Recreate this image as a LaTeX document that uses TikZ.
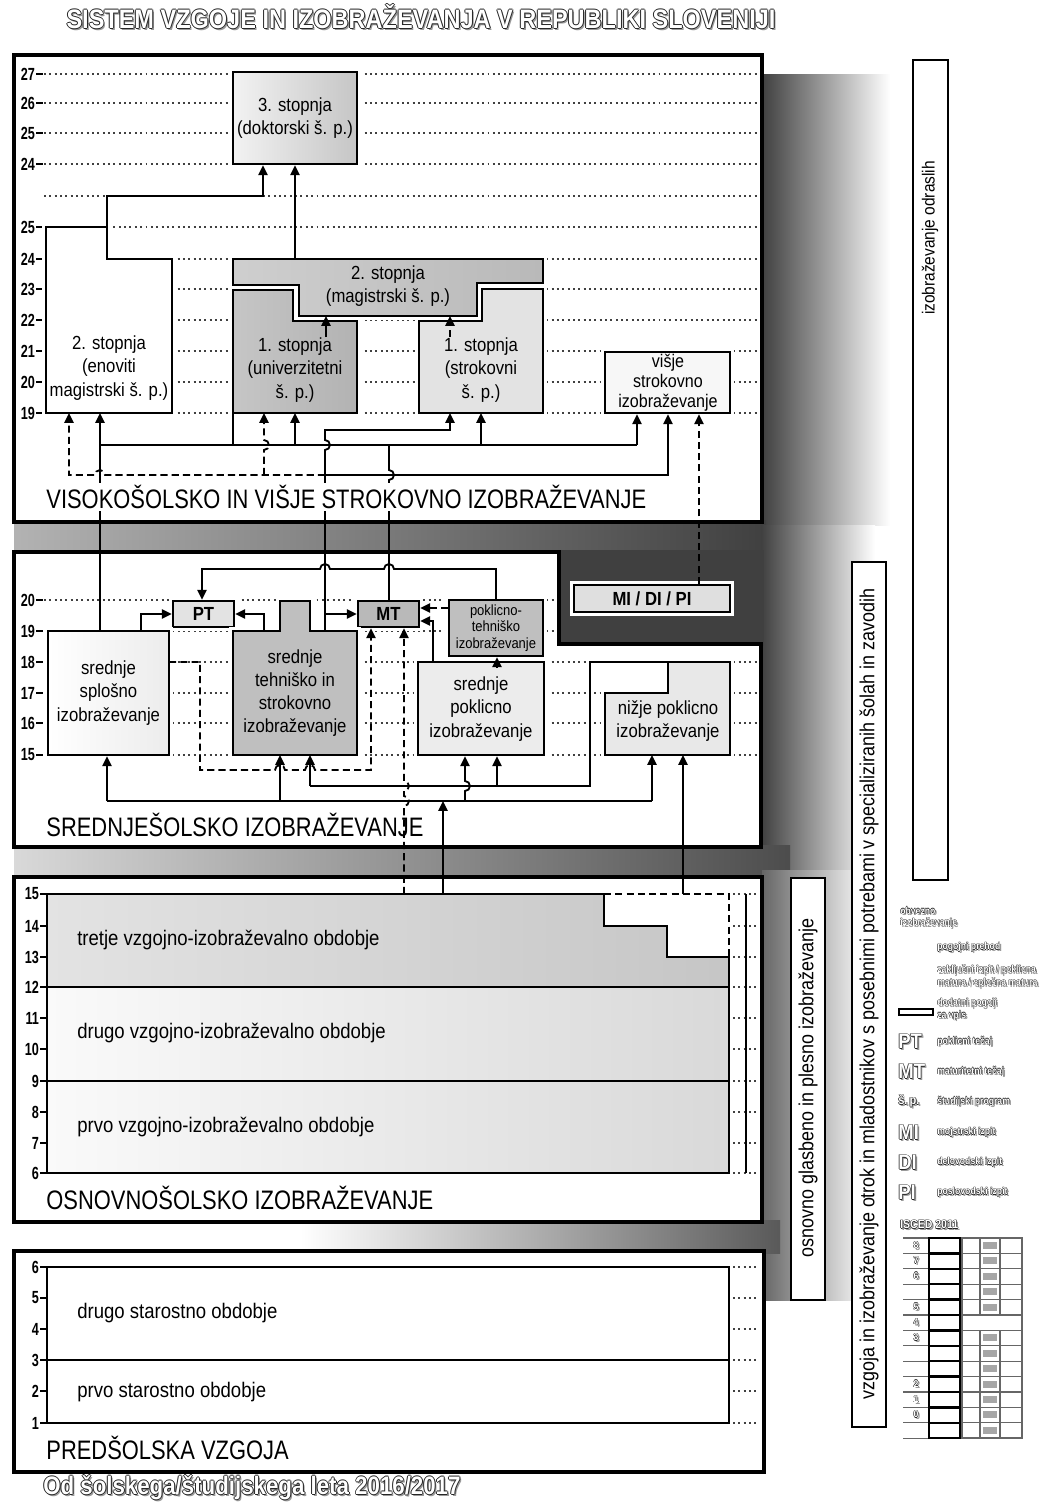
\documentclass[tikz,border=0pt]{standalone}
\usepackage{fontspec}
\setmainfont{Liberation Sans}[FakeStretch=0.88]
\newfontfamily\capsfam{Liberation Sans}[FakeStretch=0.82]
\newfontfamily\numfam{Liberation Sans}[FakeStretch=0.72]
\usetikzlibrary{positioning, arrows.meta, calc, fit}

\newcommand\boxfont{\fontsize{13.5}{16.5}\selectfont}
\newcommand\tightboxfont{\fontsize{13}{14.2}\selectfont}
\newcommand\smallboxfont{\fontsize{10.5}{11.8}\selectfont}
\newcommand\sectfont{\capsfam\fontsize{19}{21}\selectfont}
\newcommand\stagefont{\fontsize{15}{17}\selectfont}
\newcommand\yearfont{\numfam\bfseries\fontsize{12.5}{13}\selectfont}
\newcommand\sidefont{\fontsize{14.5}{16}\selectfont}
\newcommand\titlefont{\bfseries\fontsize{19}{21}\selectfont}
\newcommand\legfont{\bfseries\fontsize{7}{8}\selectfont}
\newcommand\abbrfont{\bfseries\fontsize{15}{16}\selectfont}

% white letters with a dark rim
\newcommand\holtext[2][0.6pt]{%
  \makebox[0pt][l]{\hspace*{1.2pt}\raisebox{-1.2pt}{\textcolor{black!40}{#2}}}%
  \makebox[0pt][l]{\hspace*{#1}\textcolor{black!85}{#2}}%
  \makebox[0pt][l]{\hspace*{-#1}\textcolor{black!85}{#2}}%
  \makebox[0pt][l]{\raisebox{#1}{\textcolor{black!85}{#2}}}%
  \makebox[0pt][l]{\raisebox{-#1}{\textcolor{black!85}{#2}}}%
  \textcolor{white}{#2}}

\begin{document}
\begin{tikzpicture}[x=0.025cm, y=-0.025cm,
  frame/.style={draw=black, line width=2.6pt, fill=white, inner sep=0pt},
  box/.style={draw=black, line width=1.7pt, inner sep=0pt,
    preaction={draw=white, line width=6pt}},
  boxpath/.style={draw=black, line width=1.7pt, preaction={draw=white, line width=6pt}},
  lbl/.style={align=center, font=\boxfont, inner sep=0pt},
  link/.style={line width=1.3pt},
  arr/.style={link, -{Triangle[length=7pt, width=6.5pt]}},
  cond/.style={link, dash pattern=on 5pt off 3pt},
  carr/.style={cond, -{Triangle[length=7pt, width=6.5pt]}},
  dots/.style={line width=1.3pt, black!75, dash pattern=on 1.4pt off 2.4pt},
  yearlbl/.style={font=\yearfont, anchor=east, inner sep=0.5pt},
  sect/.style={font=\sectfont, anchor=west, inner sep=1.5pt},
  stage/.style={font=\stagefont, anchor=west, inner sep=0pt},
  side/.style={draw=black, line width=2pt, fill=white, inner sep=0pt},
  sidelbl/.style={rotate=90, font=\sidefont, inner sep=0pt},
  leg/.style={font=\legfont, anchor=west, inner sep=0pt, align=left},
  abbr/.style={font=\abbrfont, anchor=west, inner sep=0pt}
]
\useasboundingbox (0,0) rectangle (1043,1504);

% dark backdrop
\fill[left color=black!75, right color=white] (762,75) rectangle (890,525);
\fill[left color=black!30, right color=black!75] (14,520) rectangle (766,554);
\fill[left color=black!75, right color=white] (761,525) rectangle (875,880);
\fill[black!75] (559,550) rectangle (764,646);
\fill[left color=black!15, right color=black!70] (14,845) rectangle (790,879);
\fill[left color=black!60, right color=white] (762,870) rectangle (870,1300);
\fill[left color=white, right color=black!65] (300,1220) rectangle (780,1253);

% frames
\node[frame, fit={(14,55) (762,522)}] (higher) {};
\draw[frame] (14,552) -- (559,552) -- (559,644) -- (761,644) -- (761,847) -- (14,847) -- cycle;
\node[frame, fit={(14,877) (762,1222)}] (basic) {};
\node[frame, fit={(14,1251) (764,1472)}] (preschool) {};

% age scales
\foreach \y/\a in {74/27, 103/26, 133/25, 164/24, 227/25, 259/24, 289/23, 320/22, 351/21, 382/20, 413/19}{
  \node[yearlbl] at (36,\y) {\a};
  \draw[link] (36,\y) -- (43,\y);
  \draw[dots] (44,\y) -- (757,\y);
}
\draw[dots] (44,196) -- (757,196);
\foreach \y/\a in {600/20, 631/19}{
  \node[yearlbl] at (36,\y) {\a};
  \draw[link] (36,\y) -- (43,\y);
  \draw[dots] (44,\y) -- (556,\y);
}
\foreach \y/\a in {662/18, 693/17, 723/16, 755/15}{
  \node[yearlbl] at (36,\y) {\a};
  \draw[link] (36,\y) -- (43,\y);
  \draw[dots] (44,\y) -- (757,\y);
}
\foreach \y/\a in {894/15, 926/14, 957/13, 987/12, 1018/11, 1049/10, 1081/9, 1112/8, 1143/7, 1173/6}{
  \node[yearlbl] at (40,\y) {\a};
  \draw[link] (40,\y) -- (47,\y);
  \draw[dots] (733,\y) -- (758,\y);
}
\foreach \y/\a in {1267/6, 1298/5, 1329/4, 1360/3, 1391/2, 1423/1}{
  \node[yearlbl] at (40,\y) {\a};
  \draw[link] (40,\y) -- (47,\y);
  \draw[dots] (733,\y) -- (758,\y);
}

% higher education
\node[box, fit={(233,72) (357,164)}, left color=gray!10, right color=gray!45] (dok) {};
\node[lbl] (dokl) at (dok.center) {3. stopnja\\(doktorski š. p.)};
\draw[boxpath, left color=white, middle color=gray!25, right color=white] (46,413) -- (46,227) -- (107,227) -- (107,259) -- (172,259) -- (172,413) -- cycle;
\node[lbl] (enov) at (109,368) {2. stopnja\\(enoviti\\magistrski š. p.)};
\draw[boxpath, left color=gray!38, right color=gray!55] (233,259) -- (543,259) -- (543,283) -- (477,283) -- (477,316) -- (299,316) -- (299,285) -- (233,285) -- cycle;
\node[lbl] (mag) at (388,286) {2. stopnja\\(magistrski š. p.)};
\draw[boxpath, left color=gray!45, right color=gray!60] (233,290) -- (293,290) -- (293,321) -- (357,321) -- (357,413) -- (233,413) -- cycle;
\node[lbl] (univ) at (295,370) {1. stopnja\\(univerzitetni\\š. p.)};
\draw[boxpath, fill=gray!22] (419,321) -- (482,321) -- (482,289) -- (543,289) -- (543,413) -- (419,413) -- cycle;
\node[lbl] (strok) at (481,370) {1. stopnja\\(strokovni\\š. p.)};
\node[box, fit={(605,352) (730,413)}, fill=gray!6] (visje) {};
\node[lbl, font=\tightboxfont] (visjel) at (668,383) {višje\\strokovno\\izobraževanje};

% secondary education
\node[box, fit={(173,601) (234,627)}, fill=gray!22] (PT) {};
\node[lbl, font=\boxfont\bfseries] (PTl) at (PT.center) {PT};
\node[box, fit={(358,601) (419,627)}, fill=gray!55] (MT) {};
\node[lbl, font=\boxfont\bfseries] (MTl) at (MT.center) {MT};
\node[box, fit={(449,600) (543,656)}, fill=gray!50] (poktech) {};
\node[lbl, font=\smallboxfont] (poktechl) at (poktech.center) {poklicno-\\tehniško\\izobraževanje};
\node[box, fit={(48,631) (169,755)}, left color=white, middle color=gray!35, right color=gray!15] (splosno) {};
\node[lbl] (splosnol) at (splosno.center) {srednje\\splošno\\izobraževanje};
\draw[boxpath, fill=gray!50] (233,631) -- (280,631) -- (280,601) -- (310,601) -- (310,631) -- (357,631) -- (357,755) -- (233,755) -- cycle;
\node[lbl] (teh) at (295,693) {srednje\\tehniško in\\strokovno\\izobraževanje};
\node[box, fit={(418,662) (544,755)}, fill=gray!15] (srpok) {};
\node[lbl] (srpokl) at (481,709) {srednje\\poklicno\\izobraževanje};
\draw[boxpath, fill=gray!18] (605,693) -- (668,693) -- (668,662) -- (730,662) -- (730,755) -- (605,755) -- cycle;
\node[lbl] (nizje) at (668,721) {nižje poklicno\\izobraževanje};
\node[box, fit={(574,585) (730,612)}, fill=gray!25] (midipi) {};
\node[lbl, font=\boxfont\bfseries] (midipil) at (midipi.center) {MI / DI / PI};

% basic school
\fill[left color=gray!22, right color=gray!45] (47,894) -- (604,894) -- (604,926) -- (667,926) -- (667,957) -- (729,957) -- (729,987) -- (47,987) -- cycle;
\fill[left color=gray!4, right color=gray!30] (47,987) rectangle (729,1173);
\draw[line width=1.7pt] (47,894) -- (604,894) -- (604,926) -- (667,926) -- (667,957) -- (729,957) -- (729,1173) -- (47,1173) -- cycle;
\draw[line width=1.7pt] (47,987) -- (729,987) (47,1081) -- (729,1081);
\draw[cond] (604,894) -- (729,894) -- (729,957);
\draw[line width=1.5pt] (746,894) -- (746,1173);
\node[stage] (tretje) at (77,940) {tretje vzgojno-izobraževalno obdobje};
\node[stage] (drugo) at (77,1033) {drugo vzgojno-izobraževalno obdobje};
\node[stage] (prvo) at (77,1127) {prvo vzgojno-izobraževalno obdobje};

% preschool
\node[draw=black, line width=1.7pt, fit={(47,1267) (729,1423)}, inner sep=0pt] (vrtec) {};
\draw[line width=1.7pt] (47,1360) -- (729,1360);
\node[stage] (drugost) at (77,1313) {drugo starostno obdobje};
\node[stage] (prvost) at (77,1392) {prvo starostno obdobje};

% transitions into higher education
\draw[arr] (107,227) |- (263,196) -- (dok.south -| 263,0);
\draw[arr] (295,259) -- (dok.south -| 295,0);
\draw[arr] (326,337) -- (326,316);
\draw[carr] (450,337) -- (450,316);
\draw[link] (100,445) -- (637,445);
\draw[link] (233,445) -- (233,413);
\draw[arr] (295,445) -- (295,413);
\draw[arr] (481,445) -- (481,413);
\draw[arr] (637,445) -- (visje.south -| 637,0);
\draw[arr] (325,475) -| (visje.south -| 668,0);
\draw[carr] (325,475) -- (105,475) arc[start angle=0, end angle=-180, radius=5] -- (69,475) -- (69,413);
\draw[carr] (264,475) -- (264,450) arc[start angle=90, end angle=-90, radius=5] -- (264,413);
\draw[carr] (midipi.north -| 699,0) -- (visje.south -| 699,0);

% transitions out of secondary education
\draw[arr] (100,631) -- (100,413);
\draw[arr] (141,631) |- (PT.west);
\draw[arr] (264,631) |- (PT.east);
\draw[arr] (325,631) -- (325,450) arc[start angle=90, end angle=-90, radius=5] -- (325,430) -| (450,413);
\draw[arr] (325,614) -- (MT.west);
\draw[link] (389,601) -- (389,480) arc[start angle=90, end angle=-90, radius=5] -- (389,445);
\draw[arr] (poktech.north) -- (496,569) -- (394,569) arc[start angle=0, end angle=-180, radius=5] -- (330,569) arc[start angle=0, end angle=-180, radius=5] -- (202,569) -- (PT.north -| 202,0);
\draw[carr] (poktech.west |- 0,608) -- (MT.east |- 0,608);
\draw[arr] (433,662) |- (MT.east |- 0,621);
\draw[arr] (497,668) -- (poktech.south -| 497,0);
\draw[carr] (169,662) -| (200,770) -- (275,770) arc[start angle=180, end angle=360, radius=5] -- (305,770) arc[start angle=180, end angle=360, radius=5] -- (371,770) -- (MT.south -| 371,0);

% transitions out of basic school
\draw[carr] (404,894) -- (404,806) arc[start angle=90, end angle=-90, radius=5] -- (404,791) arc[start angle=90, end angle=-90, radius=5] -- (MT.south -| 404,0);
\draw[arr] (443,894) -- (443,801);
\draw[link] (107,801) -- (652,801);
\draw[arr] (107,801) -- (splosno.south -| 107,0);
\draw[arr] (280,801) -- (280,755);
\draw[arr] (465,801) -- (465,791) arc[start angle=90, end angle=-90, radius=5] -- (srpok.south -| 465,0);
\draw[arr] (652,801) -- (652,755);
\draw[link] (668,662) -| (590,786) -- (310,786);
\draw[arr] (310,786) -- (310,755);
\draw[arr] (497,786) -- (srpok.south -| 497,0);
\draw[arr] (683,894) -- (683,755);

% level names
\node[sect, fill=white] (visoko) at (44,497) {VISOKOŠOLSKO IN VIŠJE STROKOVNO IZOBRAŽEVANJE};
\node[sect] (srednje) at (44,825) {SREDNJEŠOLSKO IZOBRAŽEVANJE};
\node[sect] (osnovno) at (44,1198) {OSNOVNOŠOLSKO IZOBRAŽEVANJE};
\node[sect] (predsol) at (44,1448) {PREDŠOLSKA VZGOJA};

% side bars
\node[side, fit={(913,60) (948,880)}] (adults) {};
\node[sidelbl, font=\fontsize{12.5}{14}\selectfont] (adultslbl) at (930,238) {izobraževanje odraslih};
\node[side, fit={(852,562) (886,1427)}] (special) {};
\node[sidelbl] (speciallbl) at (869,994) {vzgoja in izobraževanje otrok in mladostnikov s posebnimi potrebami v specializiranih šolah in zavodih};
\node[side, fit={(791,878) (825,1300)}] (music) {};
\node[sidelbl] (musiclbl) at (808,1088) {osnovno glasbeno in plesno izobraževanje};

% legend
\node[leg] (lg0) at (900,918) {\holtext[0.3pt]{obvezno}\\\holtext[0.3pt]{izobraževanje}};
\node[leg] (lg1) at (937,948) {\holtext[0.3pt]{pogojni prehod}};
\node[leg] (lg2) at (937,977) {\holtext[0.3pt]{zaključni izpit / poklicna}\\\holtext[0.3pt]{matura / splošna matura}};
\node[draw=black, line width=1.2pt, fill=white, minimum width=0.85cm, minimum height=0.15cm, inner sep=0pt] (lgbox) at (916,1012) {};
\node[leg] (lg3) at (937,1010) {\holtext[0.3pt]{dodatni pogoji}\\\holtext[0.3pt]{za vpis}};
\foreach \y/\ab/\tx [count=\i] in {1042/PT/poklicni tečaj, 1072/MT/maturitetni tečaj, 1102/{\fontsize{9}{10}\selectfont š.\,p.}/študijski program, 1133/MI/mojstrski izpit, 1163/DI/delovodski izpit, 1193/PI/poslovodski izpit}{
  \node[abbr] (ab\i) at (898,\y) {\holtext[0.5pt]{\ab}};
  \node[leg] (tx\i) at (937,\y) {\holtext[0.3pt]{\tx}};
}
\node[leg, font=\bfseries\fontsize{8.5}{9}\selectfont] (isced) at (900,1225) {\holtext[0.4pt]{ISCED 2011}};
\foreach \i in {0,...,13}{
  \draw[line width=0.9pt, black!60] (903,{1238+15.4*\i}) -- (1022,{1238+15.4*\i});
}
\draw[line width=0.9pt, black!60] (962,1238) rectangle (1022,1438);
\foreach \i in {0,1,2,3,4,6,7,8,9,10,11,12}{
  \draw[line width=0.8pt, black!60] (980,{1238+15.4*\i}) -- (980,{1253.4+15.4*\i}) (1000,{1238+15.4*\i}) -- (1000,{1253.4+15.4*\i});
  \fill[black!35] (983,{1242+15.4*\i}) rectangle (997,{1249+15.4*\i});
}
\foreach \i/\lv in {0/8, 1/7, 2/6, 4/5, 5/4, 6/3, 9/2, 10/1, 11/0}{
  \node[font=\bfseries\fontsize{7}{8}\selectfont, inner sep=0pt] (lv\i) at (916,{1245.7+15.4*\i}) {\holtext[0.3pt]{\lv}};
}
\draw[line width=1.8pt] (929,1238) rectangle (960,1438);
\foreach \i in {1,...,12}{
  \draw[line width=1.6pt] (929,{1238+15.4*\i}) -- (960,{1238+15.4*\i});
}

% title and date
\node (title) at (421,17) {\titlefont\holtext[0.7pt]{SISTEM VZGOJE IN IZOBRAŽEVANJA V REPUBLIKI SLOVENIJI}};
\node[anchor=west, inner sep=0pt] (since) at (43,1488) {\bfseries\fontsize{18}{20}\selectfont\holtext[0.7pt]{Od šolskega/študijskega leta 2016/2017}};
\end{tikzpicture}
\end{document}
